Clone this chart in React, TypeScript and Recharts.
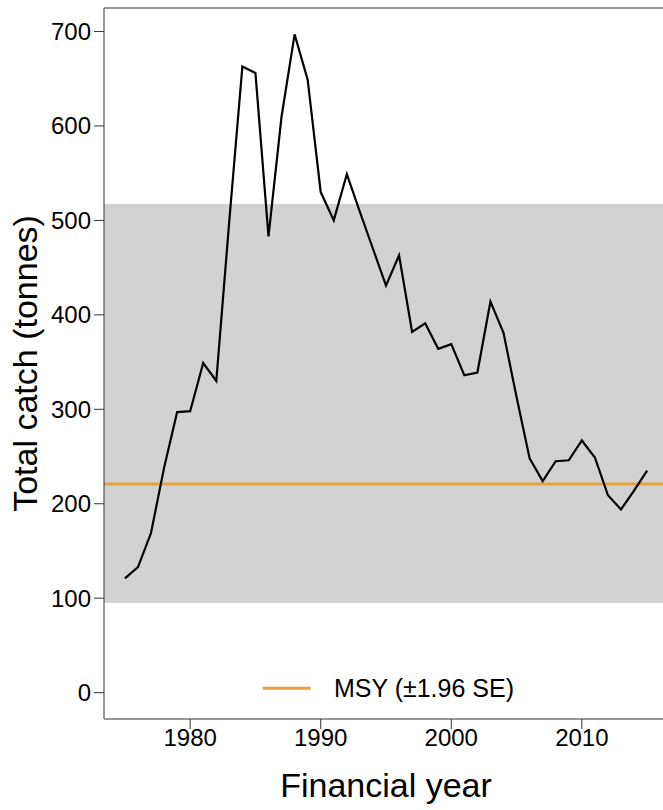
import {
  LineChart,
  Line,
  XAxis,
  YAxis,
  ReferenceArea,
  ReferenceLine,
  Legend,
  Label,
} from "recharts";

const years = [
  1975, 1976, 1977, 1978, 1979, 1980, 1981, 1982, 1983, 1984, 1985, 1986, 1987, 1988,
  1989, 1990, 1991, 1992, 1993, 1994, 1995, 1996, 1997, 1998, 1999, 2000, 2001, 2002,
  2003, 2004, 2005, 2006, 2007, 2008, 2009, 2010, 2011, 2012, 2013, 2014, 2015,
];

const totalCatch = [
  121, 133, 169, 238, 297, 298, 349, 330, 500, 663, 656, 483, 610, 697,
  649, 530, 500, 549, 509, 470, 431, 463, 382, 391, 364, 369, 336, 339,
  414, 381, 313, 248, 224, 245, 246, 267, 249, 209, 194, 214, 235,
];

const msy = 221;
const msyLower = 95;
const msyUpper = 517.5;

const yTicks = [0, 100, 200, 300, 400, 500, 600, 700];
const xTicks = [1980, 1990, 2000, 2010];
const xDomain = [1973.4, 2016.6];
const yDomain = [-27.9, 724.9];

const FONT = "Arial, 'Liberation Sans', sans-serif";
const AXIS = "#333333";
const MSY_COLOR = "#E9A23B";

const data = years.map((year, i) => ({ year, catch: totalCatch[i] }));

function MsyLegend() {
  return (
    <svg width={290} height={40} style={{ display: "block" }}>
      <line x1={12.7} x2={60.7} y1={23.3} y2={23.3} stroke={MSY_COLOR} strokeWidth={3} />
      <text x={84} y={32.3} fontSize={25} fontFamily={FONT} fill="#000">
        MSY (±1.96 SE)
      </text>
    </svg>
  );
}

export default function App() {
  return (
    <div
      style={{
        position: "absolute",
        left: 0,
        top: 0,
        width: 663,
        height: 810,
        overflow: "hidden",
        background: "#fff",
        fontFamily: FONT,
      }}
    >
      <LineChart
        width={670}
        height={810}
        data={data}
        margin={{ top: 8, right: 2, bottom: 0, left: 0 }}
      >
        <ReferenceArea
          x1={xDomain[0]}
          x2={xDomain[1]}
          y1={msyLower}
          y2={msyUpper}
          fill="#d2d2d2"
          fillOpacity={1}
          stroke="none"
        />
        <ReferenceLine y={msy} stroke={MSY_COLOR} strokeWidth={3} />
        {/* top border of the plot box */}
        <ReferenceLine y={yDomain[1]} stroke={AXIS} strokeWidth={1.2} />
        <XAxis
          dataKey="year"
          type="number"
          domain={xDomain}
          ticks={xTicks}
          allowDataOverflow
          height={91}
          tickSize={10}
          tickMargin={0}
          stroke={AXIS}
          tick={{ fill: "#000", fontSize: 24, fontFamily: FONT }}
        >
          <Label
            content={({ viewBox }: any) => (
              <text
                x={viewBox.x + viewBox.width / 2}
                y={viewBox.y + 78}
                textAnchor="middle"
                fontSize={34}
                fontFamily={FONT}
                fill="#000"
              >
                Financial year
              </text>
            )}
          />
        </XAxis>
        <YAxis
          type="number"
          domain={yDomain}
          ticks={yTicks}
          allowDataOverflow
          width={104}
          tickSize={10}
          tickMargin={3}
          stroke={AXIS}
          tick={{ fill: "#000", fontSize: 24, fontFamily: FONT }}
        >
          <Label
            content={({ viewBox }: any) => {
              const cy = viewBox.y + viewBox.height / 2;
              return (
                <text
                  x={37}
                  y={cy}
                  transform={`rotate(-90, 37, ${cy})`}
                  textAnchor="middle"
                  fontSize={34}
                  fontFamily={FONT}
                  fill="#000"
                >
                  Total catch (tonnes)
                </text>
              );
            }}
          />
        </YAxis>
        <Line
          type="linear"
          dataKey="catch"
          stroke="#000"
          strokeWidth={2.2}
          dot={false}
          activeDot={false}
          isAnimationActive={false}
        />
        <Legend
          layout="horizontal"
          verticalAlign="middle"
          align="center"
          content={() => <MsyLegend />}
          wrapperStyle={{ left: 250, top: 665, width: 290, height: 40 }}
        />
      </LineChart>
    </div>
  );
}
